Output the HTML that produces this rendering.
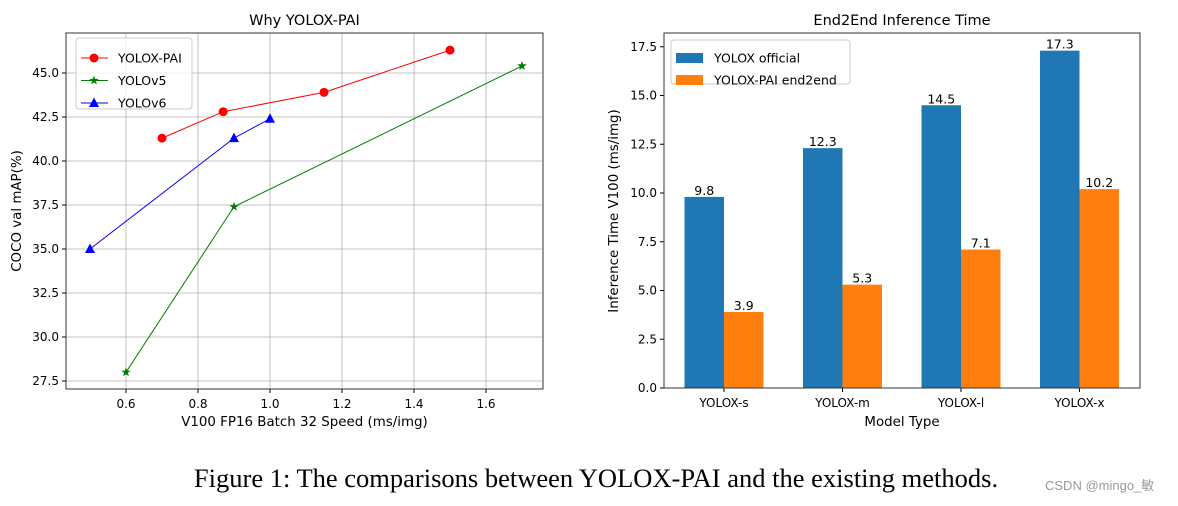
<!DOCTYPE html>
<html><head><meta charset="utf-8"><style>
body{margin:0;background:#fff;width:1178px;height:502px;overflow:hidden;font-family:"DejaVu Sans","Liberation Sans",sans-serif}
svg text{font-family:"DejaVu Sans","Liberation Sans",sans-serif}
</style></head><body>
<svg id="s" width="1178" height="502" xmlns="http://www.w3.org/2000/svg">
<text x="596" y="487" text-anchor="middle" font-size="26.5" fill="#000" style="font-family:'Liberation Serif',serif">Figure 1: The comparisons between YOLOX-PAI and the existing methods.</text>
<text x="1045" y="490" font-size="13" fill="#999" style="font-family:'Liberation Sans','Noto Sans CJK SC',sans-serif">CSDN @mingo_敏</text>
</svg>
<script>
const lineXTicks=[0.6,0.8,1.0,1.2,1.4,1.6];
const lineYTicks=[27.5,30.0,32.5,35.0,37.5,40.0,42.5,45.0];
const paiX=[0.7,0.87,1.15,1.5];const paiY=[41.3,42.8,43.9,46.3];
const v5X=[0.6,0.9,1.7];const v5Y=[28.0,37.4,45.4];
const v6X=[0.5,0.9,1.0];const v6Y=[35.0,41.3,42.4];
const categories=["YOLOX-s","YOLOX-m","YOLOX-l","YOLOX-x"];
const officialVals=[9.8,12.3,14.5,17.3];
const paiVals=[3.9,5.3,7.1,10.2];
const barYTicks=[0.0,2.5,5.0,7.5,10.0,12.5,15.0,17.5];

const svg=document.getElementById('s');const NS='http://www.w3.org/2000/svg';
function mk(t,a,txt){const e=document.createElementNS(NS,t);for(const k in a)e.setAttribute(k,a[k]);if(txt!==undefined)e.textContent=txt;svg.appendChild(e);return e;}

// ---- left chart
const L={l:66,r:543,t:33,b:389};
const lx=v=>126+(v-0.6)*360, ly=v=>73+(45-v)*17.6;
for(const v of lineXTicks){const x=lx(v);
 let g=mk('line',{x1:x,x2:x,y1:L.t,y2:L.b,stroke:'#b0b0b0','stroke-width':0.8});
 mk('line',{x1:x,x2:x,y1:L.b,y2:L.b+4,stroke:'#000'});
 let t=mk('text',{x:x,y:L.b+19,'text-anchor':'middle','font-size':12},v.toFixed(1));}
for(const v of lineYTicks){const y=ly(v);
 let g=mk('line',{x1:L.l,x2:L.r,y1:y,y2:y,stroke:'#b0b0b0','stroke-width':0.8});
 mk('line',{x1:L.l-4,x2:L.l,y1:y,y2:y,stroke:'#000'});
 let t=mk('text',{x:L.l-7,y:y+4,'text-anchor':'end','font-size':12},v.toFixed(1));}
let fr=mk('rect',{x:L.l,y:L.t,width:L.r-L.l,height:L.b-L.t,fill:'none',stroke:'#333','stroke-width':1});
let tt=mk('text',{x:(L.l+L.r)/2,y:25,'text-anchor':'middle','font-size':14.5},'Why YOLOX-PAI');
tt=mk('text',{x:(L.l+L.r)/2,y:426,'text-anchor':'middle','font-size':13.4},'V100 FP16 Batch 32 Speed (ms/img)');
tt=mk('text',{x:21,y:211,'text-anchor':'middle','font-size':13.4,transform:'rotate(-90 21 211)'},'COCO val mAP(%)');
function marker(kind,x,y,c){
 if(kind==='o')return mk('circle',{cx:x,cy:y,r:4.5,fill:c});
 if(kind==='^')return mk('polygon',{points:`${x},${y-5.5} ${x+5},${y+4} ${x-5},${y+4}`,fill:c});
 let p=[];for(let i=0;i<10;i++){const r=i%2?2:5,a=-Math.PI/2+i*Math.PI/5;p.push((x+r*Math.cos(a)).toFixed(1)+','+(y+r*Math.sin(a)).toFixed(1));}
 return mk('polygon',{points:p.join(' '),fill:c});}
function series(X,Y,c,k,name){
 let l=mk('polyline',{points:X.map((v,i)=>lx(v)+','+ly(Y[i])).join(' '),fill:'none',stroke:c,'stroke-width':1});
 
 X.forEach((v,i)=>{const m=marker(k,lx(v),ly(Y[i]),c);});}
series(paiX,paiY,'#ff0000','o','yolox-pai');
series(v5X,v5Y,'#008000','*','yolov5');
series(v6X,v6Y,'#0000ff','^','yolov6');
let lg=mk('rect',{x:76,y:38,width:116,height:71,rx:3,fill:'#fff','fill-opacity':0.8,stroke:'#ccc'});
[['YOLOX-PAI','#ff0000','o'],['YOLOv5','#008000','*'],['YOLOv6','#0000ff','^']].forEach((e,i)=>{const y=58+i*22.5;
 mk('line',{x1:81,x2:108,y1:y,y2:y,stroke:e[1],'stroke-width':1});marker(e[2],94,y,e[1]);
 let t=mk('text',{x:118,y:y+4.5,'font-size':12.5},e[0]);});

// ---- right chart
const R={l:664,r:1140,t:33,b:388};
const bx=i=>724+118.5*i, by=v=>R.b-v*19.5, bw=39.5;
for(const v of barYTicks){const y=by(v);mk('line',{x1:R.l-4,x2:R.l,y1:y,y2:y,stroke:'#000'});
 let t=mk('text',{x:R.l-7,y:y+4,'text-anchor':'end','font-size':12},v.toFixed(1));}
categories.forEach((c,i)=>{const x=bx(i);
 let b=mk('rect',{x:x-bw,y:by(officialVals[i]),width:bw,height:officialVals[i]*19.5,fill:'#1f77b4'});
 b=mk('rect',{x:x,y:by(paiVals[i]),width:bw,height:paiVals[i]*19.5,fill:'#ff7f0e'});
 let t=mk('text',{x:x-bw/2,y:by(officialVals[i])-2,'text-anchor':'middle','font-size':12.5},officialVals[i].toFixed(1));
 t=mk('text',{x:x+bw/2,y:by(paiVals[i])-2,'text-anchor':'middle','font-size':12.5},paiVals[i].toFixed(1));
 mk('line',{x1:x,x2:x,y1:R.b,y2:R.b+4,stroke:'#000'});
 t=mk('text',{x:x,y:R.b+19,'text-anchor':'middle','font-size':12},c);});
fr=mk('rect',{x:R.l,y:R.t,width:R.r-R.l,height:R.b-R.t,fill:'none',stroke:'#333','stroke-width':1});
tt=mk('text',{x:(R.l+R.r)/2,y:25,'text-anchor':'middle','font-size':14.5},'End2End Inference Time');
tt=mk('text',{x:(R.l+R.r)/2,y:426,'text-anchor':'middle','font-size':13.4},'Model Type');
tt=mk('text',{x:618,y:211,'text-anchor':'middle','font-size':13.4,transform:'rotate(-90 618 211)'},'Inference Time V100 (ms/img)');
lg=mk('rect',{x:671,y:40,width:179,height:44,rx:3,fill:'#fff','fill-opacity':0.8,stroke:'#ccc'});
[['YOLOX official','#1f77b4'],['YOLOX-PAI end2end','#ff7f0e']].forEach((e,i)=>{const y=58+i*22;
 mk('rect',{x:676,y:y-5,width:27,height:10,fill:e[1]});
 let t=mk('text',{x:714,y:y+4.5,'font-size':12.5},e[0]);});
</script>
</body></html>
